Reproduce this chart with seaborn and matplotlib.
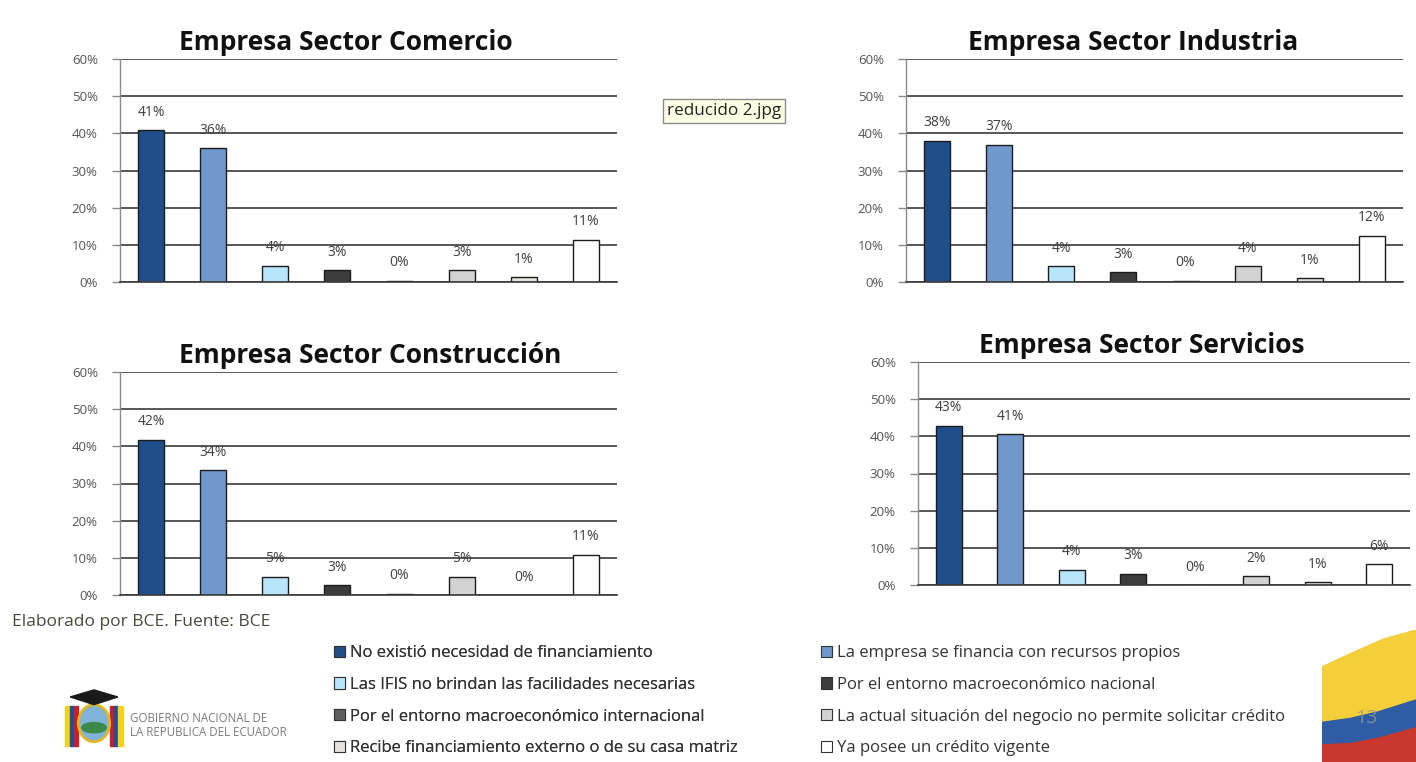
import matplotlib
matplotlib.use("Agg")
import numpy as np
import pandas as pd
import matplotlib.pyplot as plt
import seaborn as sns
from matplotlib.patches import Patch, Ellipse, Polygon, Rectangle

# ---- data -------------------------------------------------------------
categories = [
    "No existió necesidad de financiamiento",
    "La empresa se financia con recursos propios",
    "Las IFIS no brindan las facilidades necesarias",
    "Por el entorno macroeconómico nacional",
    "Por el entorno macroeconómico internacional",
    "La actual situación del negocio no permite solicitar crédito",
    "Recibe financiamiento externo o de su casa matriz",
    "Ya posee un crédito vigente",
]

comercio = [40.8, 36.0, 4.4, 3.1, 0.4, 3.1, 1.3, 11.4]
industria = [38.0, 36.9, 4.3, 2.7, 0.4, 4.3, 1.0, 12.4]
construccion = [41.8, 33.6, 4.9, 2.7, 0.4, 4.9, 0.0, 10.8]
servicios = [42.9, 40.6, 4.1, 3.0, 0.0, 2.4, 0.7, 5.6]

titles = [
    "Empresa Sector Comercio",
    "Empresa Sector Industria",
    "Empresa Sector Construcción",
    "Empresa Sector Servicios",
]
y_ticks = [0, 10, 20, 30, 40, 50, 60]

bar_colors = ["#1F4E8A", "#6F98CC", "#B8E5FA", "#3C3C3C",
              "#5E5E5E", "#D2D2D2", "#E4E4DC", "#FFFFFF"]

# ---- figure -----------------------------------------------------------
sns.set_theme(style="white")
plt.rcParams["font.family"] = ["Open Sans", "DejaVu Sans"]

W, H = 1416, 762
fig = plt.figure(figsize=(W / 100, H / 100), dpi=100)
fig.patch.set_facecolor("white")


def px_rect(left, right, y0, y60):
    """Axes rectangle from pixel edges (y measured from the top)."""
    return [left / W, 1 - y0 / H, (right - left) / W, (y0 - y60) / H]


layout = [
    (px_rect(120, 617, 282, 59), 0.455),
    (px_rect(906, 1403, 282, 59), 0.457),
    (px_rect(120, 617, 595, 372), 0.503),
    (px_rect(918, 1410, 585, 362), 0.455),
]

for title, values, (rect, tx) in zip(titles, [comercio, industria, construccion, servicios], layout):
    df = pd.DataFrame({"motivo": categories, "pct": values})
    ax = fig.add_axes(rect)
    ax.set_facecolor("white")
    sns.barplot(data=df, x="motivo", y="pct", hue="motivo", order=categories,
                hue_order=categories, palette=bar_colors, saturation=1,
                legend=False, width=0.42, edgecolor="#1c1c1c", linewidth=1.0,
                ax=ax)
    ax.set_xlim(-0.5, 7.5)
    ax.set_ylim(0, 60)
    ax.set_yticks(y_ticks)
    ax.set_yticklabels([f"{t}%" for t in y_ticks])
    ax.set_xticks([])
    ax.set_xlabel("")
    ax.set_ylabel("")
    ax.yaxis.grid(True, color="#3a3a3a", linewidth=1.2)
    ax.set_axisbelow(True)
    for side in ("top", "right"):
        ax.spines[side].set_visible(False)
    ax.spines["left"].set_color("#8a8a8a")
    ax.spines["left"].set_linewidth(1.0)
    ax.spines["bottom"].set_color("#3a3a3a")
    ax.spines["bottom"].set_linewidth(1.2)
    ax.tick_params(axis="y", left=True, length=6, width=1.0, color="#8a8a8a",
                   labelsize=9.5, labelcolor="#555555", pad=10)

    for i, v in enumerate(values):
        ax.annotate(f"{v:.0f}%", (i, v), xytext=(0, 7.5), textcoords="offset points",
                    ha="center", va="bottom", fontsize=10, color="#404040")

    ax.annotate(title, (tx, 1.0), xycoords="axes fraction", xytext=(0, 2),
                textcoords="offset points", ha="center", va="bottom",
                fontsize=19, fontweight="bold", color="#111111")

# ---- legend (two columns) --------------------------------------------
handles = [Patch(facecolor=c, edgecolor="#333333", linewidth=0.8) for c in bar_colors]
leg_kw = dict(loc="upper left", frameon=False, fontsize=12, borderpad=0,
              borderaxespad=0, handlelength=0.65, handleheight=0.65,
              handletextpad=0.3, labelspacing=0.95, labelcolor="#333333")
leg1 = fig.legend(handles[0::2], categories[0::2],
                  bbox_to_anchor=(334 / W, 1 - 645 / H), **leg_kw)
fig.add_artist(leg1)
fig.legend(handles[1::2], categories[1::2],
           bbox_to_anchor=(821 / W, 1 - 645 / H), **leg_kw)

# ---- footer texts -----------------------------------------------------
fig.text(12 / W, 1 - 622 / H, "Elaborado por BCE. Fuente: BCE", fontsize=12.5,
         color="#4a4a3c", va="center", ha="left")
fig.text(130 / W, 1 - 726 / H, "GOBIERNO NACIONAL DE\nLA REPUBLICA DEL ECUADOR",
         fontsize=8.3, color="#7a7a7a", va="center", ha="left", linespacing=1.1)

# tooltip box
fig.text(667 / W, 1 - 111 / H, "reducido 2.jpg", fontsize=12.3, color="#222222",
         va="center", ha="left",
         bbox=dict(boxstyle="square,pad=0.22", facecolor="#FFFFE6",
                   edgecolor="#8a8a8a", linewidth=1.0))

# coat of arms emblem (simplified)
emb = fig.add_axes([60 / W, 1 - 752 / H, 68 / W, 64 / H])
emb.set_xlim(0, 1)
emb.set_ylim(0, 1)
emb.axis("off")
for x0, cols in ((0.08, ["#F2D21B", "#1F4E9A", "#C8202A"]),
                 (0.74, ["#C8202A", "#1F4E9A", "#F2D21B"])):
    for k, c in enumerate(cols):
        emb.add_patch(Rectangle((x0 + k * 0.06, 0.1), 0.06, 0.62, color=c))
emb.add_patch(Ellipse((0.5, 0.45), 0.46, 0.58, facecolor="#7FB4D8",
                      edgecolor="#E2B81E", linewidth=2))
emb.add_patch(Ellipse((0.5, 0.38), 0.36, 0.16, color="#3C8A4A"))
emb.add_patch(Polygon([[0.15, 0.86], [0.5, 0.74], [0.85, 0.86], [0.5, 0.97]],
                      color="#1a1a1a"))

# flag swoosh, lower right corner
flag = fig.add_axes([1322 / W, 0, 94 / W, 132 / H])
flag.set_xlim(0, 1)
flag.set_ylim(0, 1)
flag.axis("off")
flag.add_patch(Polygon([[0, 0.72], [0.3, 0.82], [0.65, 0.93], [1, 1.0],
                        [1, 0.47], [0.6, 0.38], [0.3, 0.33], [0, 0.30]],
                       color="#F4CF3A"))
flag.add_patch(Polygon([[0, 0.30], [0.3, 0.33], [0.6, 0.38], [1, 0.47],
                        [1, 0.26], [0.6, 0.18], [0.3, 0.14], [0, 0.13]],
                       color="#2E5DA6"))
flag.add_patch(Polygon([[0, 0.13], [0.3, 0.14], [0.6, 0.18], [1, 0.26],
                        [1, 0], [0, 0]], color="#C9382C"))
fig.text(1366 / W, 1 - 718 / H, "13", fontsize=14, color="#9a9a8a",
         ha="center", va="center", alpha=0.8)

fig.savefig("out.png", dpi=100, facecolor="white")
